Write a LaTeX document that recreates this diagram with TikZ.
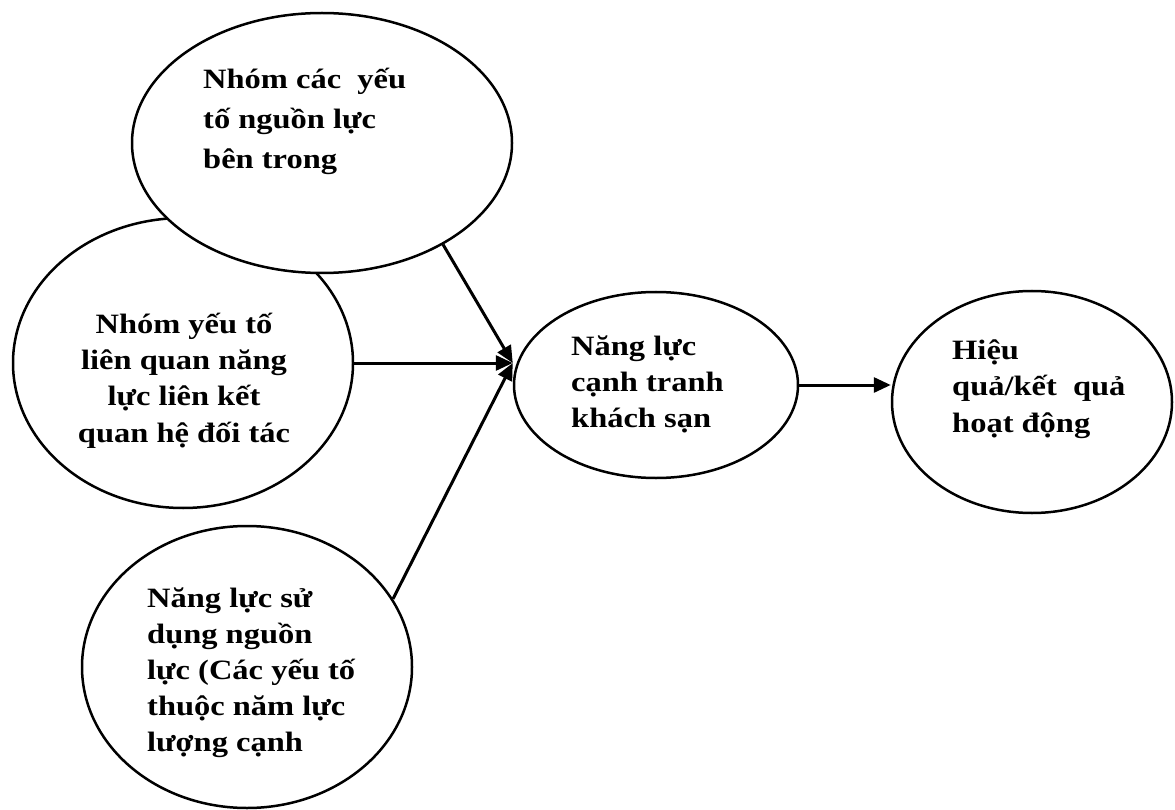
\documentclass[tikz,border=0pt]{standalone}
\usepackage{fontspec}
\setmainfont{Liberation Serif}[FakeStretch=1.16]
\usepackage{xcolor}
\usepackage{tikz}
\usetikzlibrary{positioning,arrows.meta,shapes.geometric}

\tikzset{
  oval/.style={ellipse,draw,line width=2.5pt,fill=white,inner sep=0pt},
  arr/.style={line width=3pt,-{Triangle[length=17pt,width=15pt]}},
  lbl/.style={inner sep=0pt,font=\bfseries\fontsize{28}{36.5}\selectfont}
}

\begin{document}
\begin{tikzpicture}[x=1pt,y=-1pt]
    \useasboundingbox (0,0) rectangle (1175,810);

    % ellipses (left one first, the top one overlaps it)
    \node[oval,minimum width=340pt,minimum height=290pt] (linkage) at (183,363) {};
    \node[oval,minimum width=380pt,minimum height=260pt] (inner) at (322,143) {};
    \node[oval,minimum width=330pt,minimum height=282pt] (usage) at (247,667) {};
    \node[oval,minimum width=284pt,minimum height=186pt] (comp) at (656,385) {};
    \node[oval,minimum width=280pt,minimum height=222pt] (result) at (1032,402) {};

    % texts
    \node[lbl,anchor=base west] (innerT) at (203,89) {\fontsize{28}{40}\selectfont\begin{tabular}[t]{@{}l@{}}Nhóm các~ yếu\\ tố nguồn lực\\ bên trong\end{tabular}};
    \node[lbl,anchor=base] (linkageT) at (184,333) {\begin{tabular}[t]{@{}c@{}}Nhóm yếu tố\\ liên quan năng\\ lực liên kết\\ quan hệ đối tác\end{tabular}};
    \node[lbl,anchor=base west] (usageT) at (147,607) {\fontsize{28}{36}\selectfont\begin{tabular}[t]{@{}l@{}}Năng lực sử\\ dụng nguồn\\ lực (Các yếu tố\\ thuộc năm lực\\ lượng cạnh\end{tabular}};
    \node[lbl,anchor=base west] (compT) at (571,355) {\fontsize{28}{36}\selectfont\begin{tabular}[t]{@{}l@{}}Năng lực\\ cạnh tranh\\ khách sạn\end{tabular}};
    \node[lbl,anchor=base west] (resultT) at (952,359) {\begin{tabular}[t]{@{}l@{}}Hiệu\\ quả/kết~ quả\\ hoạt động\end{tabular}};

    % arrows
    \draw[arr] (inner.-40) -- (linkage.east -| comp.west);
    \draw[arr] (linkage.east) -- (linkage.east -| comp.west);
    \draw[arr] (usage.25) -- (linkage.east -| comp.west);
    \draw[arr] (comp.east) -- (comp.east -| result.west);
  \end{tikzpicture}
\end{document}
